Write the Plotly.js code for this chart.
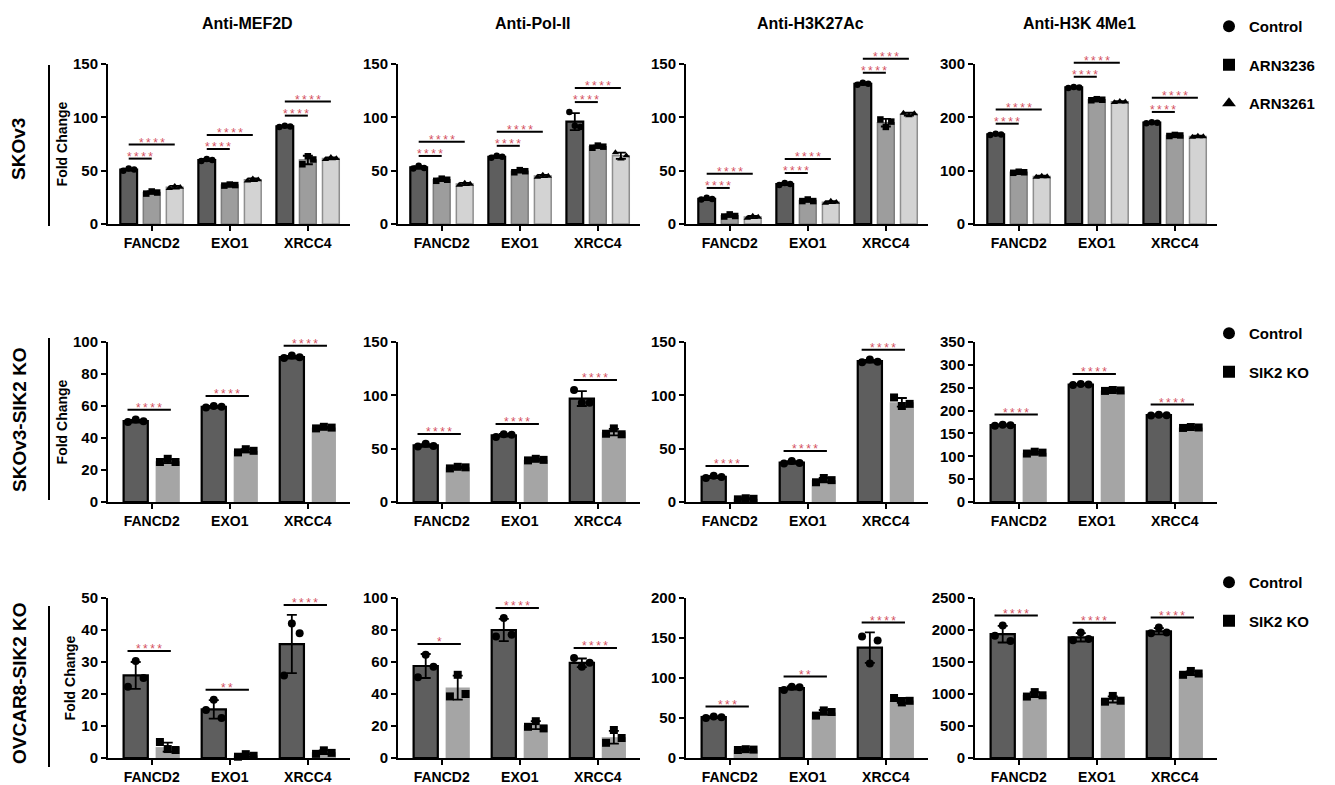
<!DOCTYPE html>
<html><head><meta charset="utf-8">
<script src="https://cdn.plot.ly/plotly-3.0.1.min.js"></script>
<style>html,body{margin:0;padding:0;background:#fff}#chart{width:1335px;height:785px}</style>
</head><body><div id="chart"></div>
<script>
// ---------------- DATA ----------------
const categories = ['FANCD2', 'EXO1', 'XRCC4'];
const antibodies = ['Anti-MEF2D', 'Anti-Pol-II', 'Anti-H3K27Ac', 'Anti-H3K 4Me1'];
const rowLabels = ['SKOv3', 'SKOv3-SIK2 KO', 'OVCAR8-SIK2 KO'];
const seriesSKOv3 = ['Control', 'ARN3236', 'ARN3261'];
const seriesKO = ['Control', 'SIK2 KO'];
const yMaxByRow = [[150, 150, 150, 300], [100, 150, 150, 350], [50, 100, 200, 2500]];
const yStepByRow = [[50, 50, 50, 100], [20, 50, 50, 50], [10, 20, 50, 500]];

// Row 1: SKOv3  (series: Control, ARN3236, ARN3261; per category FANCD2, EXO1, XRCC4)
const skov3_mef2d_mean = [[51, 60, 91.5], [29.5, 36.5, 60], [34.5, 41.5, 61.5]];
const skov3_mef2d_sd = [[1, 1, 0.8], [1, 0.8, 4], [1.2, 1.2, 1]];
const skov3_mef2d_pts = [[[50, 52, 51], [59, 61, 60], [91, 92, 91.5]], [[28.5, 30.5, 29.5], [36, 37, 36.5], [56, 63.5, 60.5]], [[33.5, 35.5, 34.5], [40.5, 42.5, 41.5], [60.5, 62.5, 61.5]]];
const skov3_mef2d_sig = [['****', '****'], ['****', '****'], ['****', '****']];

const skov3_pol2_mean = [[53, 63, 96], [41.5, 49.5, 72.5], [37.5, 45, 64]];
const skov3_pol2_sd = [[1.3, 1, 8], [1, 1, 1], [1, 1, 3]];
const skov3_pol2_pts = [[[52, 54.5, 52.5], [62, 64, 63], [105, 92, 91]], [[40.5, 42.5, 41.5], [48.5, 50.5, 49.5], [71.5, 73.5, 72.5]], [[36.5, 38.5, 37.5], [44, 46, 45], [67, 61, 64]]];
const skov3_pol2_sig = [['****', '****'], ['****', '****'], ['****', '****']];

const skov3_h3k27_mean = [[23.5, 37.5, 131.5], [7.8, 22, 95], [6.5, 20.5, 103]];
const skov3_h3k27_sd = [[1, 1, 1], [1, 1, 3.6], [1, 1, 1.3]];
const skov3_h3k27_pts = [[[23, 24.5, 23.5], [36.5, 38.5, 37.5], [130.5, 132.5, 131.5]], [[7, 9, 7.5], [21.5, 23, 21.5], [98, 91, 96]], [[5.5, 7.5, 6.5], [19.5, 21.5, 20.5], [104, 101.5, 103.5]]];
const skov3_h3k27_sig = [['****', '****'], ['****', '****'], ['****', '****']];

const skov3_h3k4_mean = [[168, 256, 190], [97, 233, 166], [89, 229, 164]];
const skov3_h3k4_sd = [[1.5, 1.5, 1.5], [1.5, 1.5, 1.5], [1.5, 1.5, 1.5]];
const skov3_h3k4_pts = [[[167, 169, 168], [255, 257, 256], [189, 191, 190]], [[96, 98, 97], [232, 234, 233], [165, 167, 166]], [[88, 90, 89], [228, 230, 229], [163, 165, 164]]];
const skov3_h3k4_sig = [['****', '****'], ['****', '****'], ['****', '****']];

// Row 2: SKOv3-SIK2 KO (series: Control, SIK2 KO)
const skko_mef2d_mean = [[50.5, 59.5, 90.5], [25.5, 32, 46.5]];
const skko_mef2d_sd = [[0.8, 0.6, 0.8], [1.2, 1, 0.5]];
const skko_mef2d_pts = [[[50, 51.5, 50.5], [59, 60, 59.5], [90, 91.5, 90.5]], [[25, 27, 25], [31, 33, 32], [46, 47, 46.5]]];
const skko_mef2d_sig = [['****'], ['****'], ['****']];

const skko_pol2_mean = [[53, 62.5, 97], [32.5, 39.5, 65.5]];
const skko_pol2_sd = [[1.3, 1.3, 7], [0.8, 0.8, 3]];
const skko_pol2_pts = [[[52, 54.5, 52.5], [61, 63.5, 63], [105, 93, 93]], [[31.5, 33, 32.5], [39, 40.5, 39.5], [64, 69, 63.5]]];
const skko_pol2_sig = [['****'], ['****'], ['****']];

const skko_h3k27_mean = [[23.5, 37, 132], [3, 20.5, 93.5]];
const skko_h3k27_sd = [[1, 1.3, 1.3], [0.5, 2, 4]];
const skko_h3k27_pts = [[[22.5, 24.5, 23.5], [36, 38.5, 36.5], [131, 133.5, 131.5]], [[2.5, 3.5, 3], [18.5, 22.5, 20.5], [98, 90, 92]]];
const skko_h3k27_sig = [['****'], ['****'], ['****']];

const skko_h3k4_mean = [[168, 257, 190], [108, 244, 163]];
const skko_h3k4_sd = [[1.5, 1.5, 1.5], [2, 1.5, 1.5]];
const skko_h3k4_pts = [[[167, 169, 168], [256, 258, 257], [189, 191, 190]], [[106, 110, 108], [243, 245, 244], [162, 164, 163]]];
const skko_h3k4_sig = [['****'], ['****'], ['****']];

// Row 3: OVCAR8-SIK2 KO (series: Control, SIK2 KO)
const ovko_mef2d_mean = [[25.8, 15.2, 35.6], [3.4, 0.8, 1.8]];
const ovko_mef2d_sd = [[4.2, 2.9, 9.1], [1.4, 0.4, 0.6]];
const ovko_mef2d_pts = [[[22.3, 30.3, 25], [15, 18.2, 12.5], [25.8, 42, 39]], [[5, 2.8, 2.5], [0.4, 1.2, 0.7], [1.3, 2.4, 1.6]]];
const ovko_mef2d_sig = [['****'], ['**'], ['****']];

const ovko_pol2_mean = [[57.5, 80, 59.5], [44, 20.5, 13]];
const ovko_pol2_sd = [[7.5, 7, 2.7], [7.5, 2.5, 4]];
const ovko_pol2_pts = [[[50.5, 64.5, 57], [76, 87.5, 77], [62.5, 57, 59.5]], [[38.5, 52, 40], [19.5, 23, 18.5], [9.5, 17.5, 12.5]]];
const ovko_pol2_sig = [['*'], ['****'], ['****']];

const ovko_h3k27_mean = [[51, 87.5, 138], [10.5, 57, 72]];
const ovko_h3k27_sd = [[1, 2, 19], [0.5, 3, 3]];
const ovko_h3k27_pts = [[[50, 52, 51], [85, 89, 88.5], [152, 118, 147]], [[10, 11, 10.5], [53, 59.5, 57.5], [75, 69.5, 71.5]]];
const ovko_h3k27_sig = [['***'], ['**'], ['****']];

const ovko_h3k4_mean = [[1935, 1885, 1980], [990, 915, 1325]];
const ovko_h3k4_sd = [[130, 65, 48], [37, 48, 30]];
const ovko_h3k4_pts = [[[1910, 2070, 1830], [1840, 1960, 1860], [1950, 2040, 1960]], [[960, 1030, 980], [880, 970, 895], [1300, 1360, 1320]]];
const ovko_h3k4_sig = [['****'], ['****'], ['****']];

// ---------------- BUILD ----------------
const panels = [
  [skov3_mef2d_mean, skov3_mef2d_sd, skov3_mef2d_pts, skov3_mef2d_sig],
  [skov3_pol2_mean, skov3_pol2_sd, skov3_pol2_pts, skov3_pol2_sig],
  [skov3_h3k27_mean, skov3_h3k27_sd, skov3_h3k27_pts, skov3_h3k27_sig],
  [skov3_h3k4_mean, skov3_h3k4_sd, skov3_h3k4_pts, skov3_h3k4_sig],
  [skko_mef2d_mean, skko_mef2d_sd, skko_mef2d_pts, skko_mef2d_sig],
  [skko_pol2_mean, skko_pol2_sd, skko_pol2_pts, skko_pol2_sig],
  [skko_h3k27_mean, skko_h3k27_sd, skko_h3k27_pts, skko_h3k27_sig],
  [skko_h3k4_mean, skko_h3k4_sd, skko_h3k4_pts, skko_h3k4_sig],
  [ovko_mef2d_mean, ovko_mef2d_sd, ovko_mef2d_pts, ovko_mef2d_sig],
  [ovko_pol2_mean, ovko_pol2_sd, ovko_pol2_pts, ovko_pol2_sig],
  [ovko_h3k27_mean, ovko_h3k27_sd, ovko_h3k27_pts, ovko_h3k27_sig],
  [ovko_h3k4_mean, ovko_h3k4_sd, ovko_h3k4_pts, ovko_h3k4_sig]
];

const W = 1335, H = 785;
const FONT = 'Liberation Sans, Arial, Helvetica, sans-serif';
const colLeftPx = [108, 398, 686, 975];
const panelWpx = 242;
const rowBottomPx = [224, 502, 758];
const panelHpx = 160;
const xRange = [-0.56, 2.54];
const sigScale = 1.35;
const px2x = p => p / W;
const px2y = p => 1 - p / H;

const styles3 = {
  fill: ['#5e5e5e', '#9d9d9d', '#d3d3d3'],
  line: ['#000000', '#7d7d7d', '#8e8e8e'],
  lw: [2.2, 1.5, 1.5],
  sym: ['circle', 'square', 'triangle-up'],
  pitch: 0.295, bw: 0.215, jit: 0.07, msize: 6.5
};
const styles2 = {
  fill: ['#5e5e5e', '#a5a5a5'],
  line: ['#000000', '#a5a5a5'],
  lw: [2.2, 0],
  sym: ['circle', 'square'],
  pitch: 0.41, bw: 0.31, jit: 0.1, msize: 8
};
const legendIds = ['legend', 'legend2', 'legend3'];

const data = [];
const shapes = [];
const annotations = [];
const layout = {
  width: W, height: H, autosize: false,
  margin: {l: 0, r: 0, t: 0, b: 0},
  paper_bgcolor: '#ffffff', plot_bgcolor: 'rgba(0,0,0,0)',
  barmode: 'overlay',
  font: {family: FONT, size: 14, color: '#000', weight: 'bold'},
  showlegend: true
};

panels.forEach((P, idx) => {
  const [mean, sd, pts, sig] = P;
  const row = Math.floor(idx / 4), col = idx % 4;
  const k = idx + 1, k2 = idx + 13;
  const xa = 'x' + (k === 1 ? '' : k), ya = 'y' + (k === 1 ? '' : k), ya2 = 'y' + k2;
  const xName = 'xaxis' + (k === 1 ? '' : k), yName = 'yaxis' + (k === 1 ? '' : k), y2Name = 'yaxis' + k2;
  const ymax = yMaxByRow[row][col], dt = yStepByRow[row][col];
  const nS = mean.length;
  const st = nS === 3 ? styles3 : styles2;
  const series = nS === 3 ? seriesSKOv3 : seriesKO;
  const L = colLeftPx[col], B = rowBottomPx[row];

  layout[xName] = {
    domain: [px2x(L), px2x(L + panelWpx)], range: xRange, anchor: ya,
    tickvals: [0, 1, 2], ticktext: categories, ticks: 'outside', ticklen: 5, tickwidth: 2,
    tickcolor: '#000', showline: true, linewidth: 2, linecolor: '#000',
    showgrid: false, zeroline: false, fixedrange: true,
    tickfont: {family: FONT, size: 14, weight: 'bold', color: '#000'}
  };
  layout[yName] = {
    domain: [px2y(B), px2y(B - panelHpx)], range: [0, ymax], anchor: xa,
    tick0: 0, dtick: dt, ticks: 'outside', ticklen: 5, tickwidth: 2, tickcolor: '#000',
    showline: true, linewidth: 2, linecolor: '#000', showgrid: false, zeroline: false,
    fixedrange: true, tickfont: {family: FONT, size: 15, weight: 'bold', color: '#000'}
  };
  if (col === 0) {
    layout[yName].title = {text: 'Fold Change', font: {family: FONT, size: 14, weight: 'bold', color: '#000'}, standoff: 2};
  }
  layout[y2Name] = {
    domain: [px2y(B), px2y(B - panelHpx * sigScale)], range: [0, ymax * sigScale], anchor: xa,
    visible: false, fixedrange: true, showgrid: false, zeroline: false
  };
  // make overlay subplot exist
  data.push({type: 'scatter', x: [null], y: [null], xaxis: xa, yaxis: ya2, showlegend: false, hoverinfo: 'skip'});

  // bars
  for (let s = 0; s < nS; s++) {
    const off = (s - (nS - 1) / 2) * st.pitch;
    data.push({
      type: 'bar', name: series[s], xaxis: xa, yaxis: ya,
      x: categories.map((c, i) => i + off), y: mean[s], width: st.bw,
      marker: {color: st.fill[s], line: {color: st.line[s], width: st.lw[s]}},
      error_y: {type: 'data', array: sd[s], visible: true, color: '#000', thickness: 1.8, width: 5},
      showlegend: false, hoverinfo: 'skip'
    });
  }
  // points
  for (let s = 0; s < nS; s++) {
    const off = (s - (nS - 1) / 2) * st.pitch;
    const xs = [], ys = [];
    categories.forEach((c, i) => {
      pts[s][i].forEach((v, j) => { xs.push(i + off + (j - 1) * st.jit); ys.push(v); });
    });
    data.push({
      type: 'scatter', mode: 'markers', name: series[s], xaxis: xa, yaxis: ya,
      x: xs, y: ys, cliponaxis: false,
      marker: {symbol: st.sym[s], size: st.msize, color: '#000', line: {width: 0}},
      showlegend: col === 0, legend: legendIds[row], legendgroup: 'g' + row + '_' + s,
      hoverinfo: 'skip'
    });
  }
  // significance
  categories.forEach((c, i) => {
    let top = 0;
    for (let s = 0; s < nS; s++) {
      top = Math.max(top, mean[s][i] + sd[s][i], ...pts[s][i]);
    }
    sig[i].forEach((lab, l) => {
      const y = top + ymax * (l === 0 ? 0.062 : 0.15);
      let x0, x1;
      if (nS === 3) { x0 = i - st.pitch; x1 = i + (l === 0 ? 0 : st.pitch); }
      else { x0 = i - 0.31; x1 = i + 0.245; }
      shapes.push({type: 'line', xref: xa, yref: ya2, x0: x0, x1: x1, y0: y, y1: y, line: {color: '#000', width: 2}});
      annotations.push({xref: xa, yref: ya2, x: (x0 + x1) / 2, y: y, text: lab.split('').join('\u2009'), showarrow: false,
        yanchor: 'bottom', xanchor: 'center', yshift: -6.3, borderpad: 0,
        font: {family: FONT, size: 12, color: '#d4505e', weight: 'normal'}});
    });
  });
});

// column titles
const titleCx = [248, 533, 810, 1079];
antibodies.forEach((t, c) => {
  annotations.push({xref: 'paper', yref: 'paper', x: px2x(titleCx[c]), y: px2y(24), text: t, showarrow: false,
    xanchor: 'center', yanchor: 'middle', font: {family: FONT, size: 16, weight: 'bold', color: '#000'}});
});
// row labels and separators
const rowLabelCy = [149, 420, 683];
const rowLineY = [[65, 226], [338, 500], [606, 767]];
rowLabels.forEach((t, r) => {
  annotations.push({xref: 'paper', yref: 'paper', x: px2x(19), y: px2y(rowLabelCy[r]), text: t, showarrow: false,
    textangle: -90, xanchor: 'center', yanchor: 'middle', font: {family: FONT, size: 19, weight: 'bold', color: '#000'}});
  shapes.push({type: 'line', xref: 'paper', yref: 'paper', x0: px2x(49), x1: px2x(49),
    y0: px2y(rowLineY[r][0]), y1: px2y(rowLineY[r][1]), line: {color: '#000', width: 2}});
});

const legendTopPx = [10, 317, 566];
legendIds.forEach((id, r) => {
  layout[id] = {x: px2x(1209), y: px2y(legendTopPx[r]), xanchor: 'left', yanchor: 'top',
    bgcolor: 'rgba(0,0,0,0)', borderwidth: 0, itemsizing: 'constant', tracegroupgap: 16,
    font: {family: FONT, size: 15, weight: 'bold', color: '#000'}, itemclick: false, itemdoubleclick: false};
});

layout.shapes = shapes;
layout.annotations = annotations;

Plotly.newPlot('chart', data, layout, {staticPlot: true, displayModeBar: false});
</script>
</body></html>
